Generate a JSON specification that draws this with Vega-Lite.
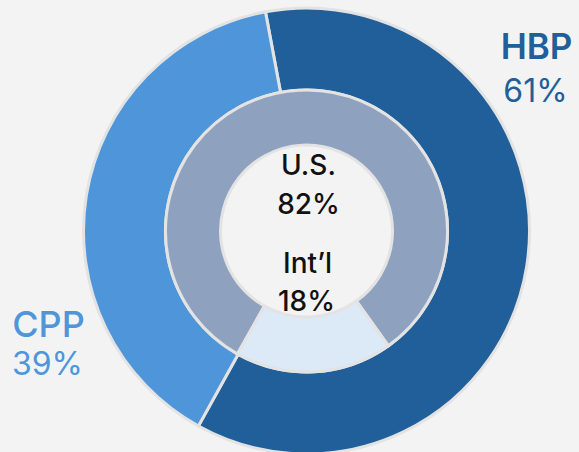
{
  "$schema": "https://vega.github.io/schema/vega-lite/v6.json",
  "width": 545,
  "height": 442,
  "autosize": {"type": "none"},
  "padding": {"left": 34, "top": 10, "right": 0, "bottom": 0},
  "background": "#f3f3f3",
  "config": {"view": {"stroke": null}, "text": {"font": "Inter"}},
  "datasets": {
    "outer": [
      {"segment": "HBP", "share": 0.61},
      {"segment": "CPP", "share": 0.39}
    ],
    "inner": [
      {"segment": "U.S.", "share": 0.82},
      {"segment": "Int’l", "share": 0.18}
    ]
  },
  "resolve": {"scale": {"theta": "independent"}},
  "layer": [
    {
      "data": {"name": "outer"},
      "mark": {"type": "arc", "radius": 223, "innerRadius": 141, "stroke": "#e3e3e3", "strokeWidth": 3},
      "encoding": {
        "theta": {"field": "share", "type": "quantitative", "stack": true, "scale": {"range": [-0.185, 6.098]}},
        "order": {"field": "segment", "sort": "descending"},
        "color": {
          "field": "segment", "type": "nominal", "legend": null,
          "scale": {"domain": ["HBP", "CPP", "U.S.", "Int’l"], "range": ["#215f9b", "#4e96d9", "#8ea2bf", "#dce9f6"]}
        }
      }
    },
    {
      "data": {"name": "inner"},
      "mark": {"type": "arc", "radius": 141, "innerRadius": 86, "stroke": "#e3e3e3", "strokeWidth": 3},
      "encoding": {
        "theta": {"field": "share", "type": "quantitative", "stack": true, "scale": {"range": [2.522, 8.805]}},
        "order": {"field": "segment", "sort": "ascending"},
        "color": {"field": "segment", "type": "nominal", "legend": null}
      }
    },
    {
      "data": {"name": "outer"},
      "transform": [{"filter": "datum.segment === 'HBP'"}],
      "mark": {"type": "text", "fontSize": 35, "fontWeight": 600, "align": "center", "baseline": "alphabetic", "dx": 230, "dy": -172},
      "encoding": {"text": {"field": "segment"}, "color": {"field": "segment", "type": "nominal", "legend": null}}
    },
    {
      "data": {"name": "outer"},
      "transform": [{"filter": "datum.segment === 'HBP'"}],
      "mark": {"type": "text", "fontSize": 32, "fontWeight": 400, "align": "center", "baseline": "alphabetic", "dx": 229, "dy": -129},
      "encoding": {"text": {"field": "share", "format": ".0%"}, "color": {"field": "segment", "type": "nominal", "legend": null}}
    },
    {
      "data": {"name": "outer"},
      "transform": [{"filter": "datum.segment === 'CPP'"}],
      "mark": {"type": "text", "fontSize": 36, "fontWeight": 500, "align": "center", "baseline": "alphabetic", "dx": -258, "dy": 106},
      "encoding": {"text": {"field": "segment"}, "color": {"field": "segment", "type": "nominal", "legend": null}}
    },
    {
      "data": {"name": "outer"},
      "transform": [{"filter": "datum.segment === 'CPP'"}],
      "mark": {"type": "text", "fontSize": 32, "fontWeight": 400, "align": "center", "baseline": "alphabetic", "dx": -259, "dy": 144},
      "encoding": {"text": {"field": "share", "format": ".0%"}, "color": {"field": "segment", "type": "nominal", "legend": null}}
    },
    {
      "data": {"name": "inner"},
      "transform": [{"filter": "datum.segment === 'U.S.'"}],
      "mark": {"type": "text", "fontSize": 28, "fontWeight": 500, "align": "center", "baseline": "alphabetic", "dx": 2, "dy": -56, "color": "#111111"},
      "encoding": {"text": {"field": "segment"}}
    },
    {
      "data": {"name": "inner"},
      "transform": [{"filter": "datum.segment === 'U.S.'"}],
      "mark": {"type": "text", "fontSize": 28, "fontWeight": 500, "align": "center", "baseline": "alphabetic", "dx": 2, "dy": -17, "color": "#111111"},
      "encoding": {"text": {"field": "share", "format": ".0%"}}
    },
    {
      "data": {"name": "inner"},
      "transform": [{"filter": "datum.segment === 'Int’l'"}],
      "mark": {"type": "text", "fontSize": 28, "fontWeight": 500, "align": "center", "baseline": "alphabetic", "dx": 1, "dy": 42, "color": "#111111"},
      "encoding": {"text": {"field": "segment"}}
    },
    {
      "data": {"name": "inner"},
      "transform": [{"filter": "datum.segment === 'Int’l'"}],
      "mark": {"type": "text", "fontSize": 28, "fontWeight": 500, "align": "center", "baseline": "alphabetic", "dx": 0, "dy": 80, "color": "#111111"},
      "encoding": {"text": {"field": "share", "format": ".0%"}}
    }
  ]
}
